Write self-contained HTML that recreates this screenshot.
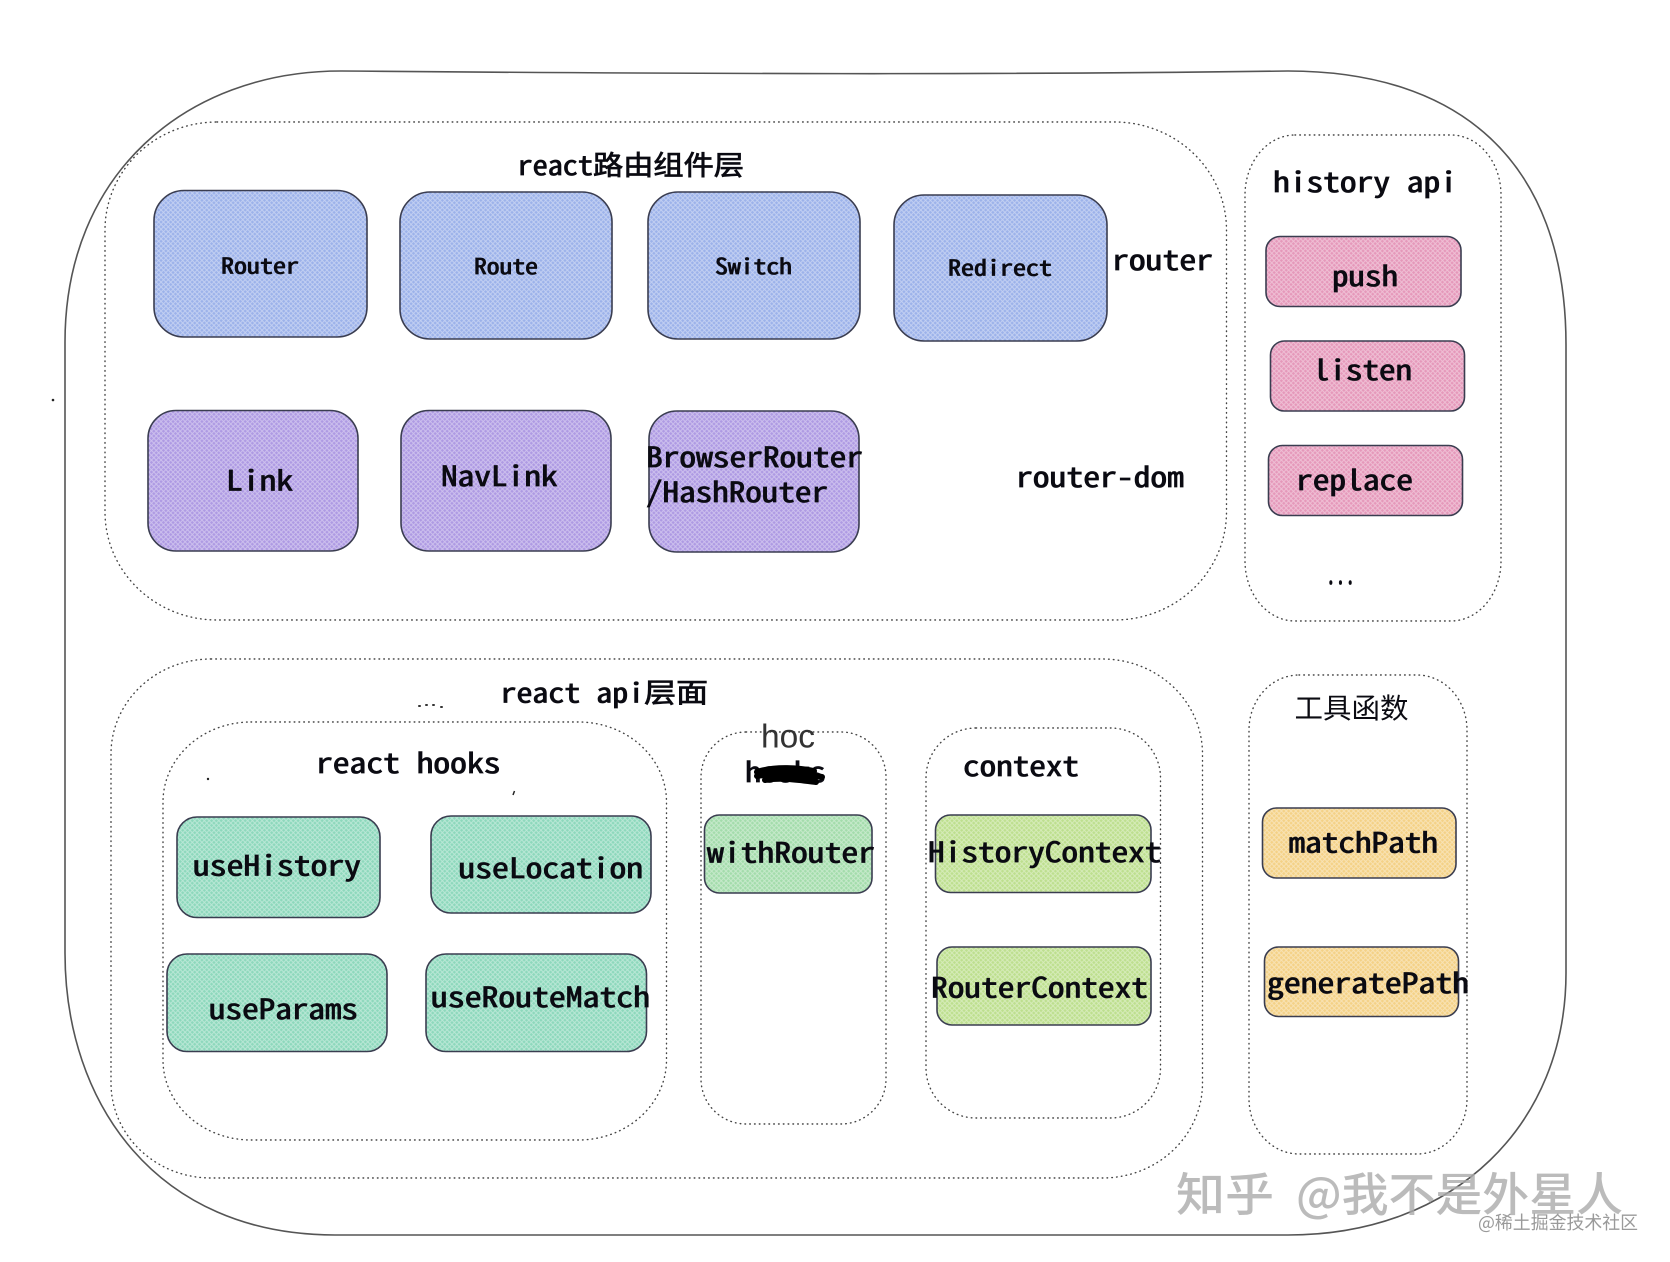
<!DOCTYPE html>
<html lang="zh">
<head>
<meta charset="utf-8">
<title>React Router layers</title>
<style>
html,body{margin:0;padding:0;background:#fff}
svg{display:block}
.m{font-family:"Noto Sans Mono CJK SC","DejaVu Sans Mono","Liberation Mono","Noto Sans CJK SC",monospace;font-weight:400;fill:#0b0b12;stroke:#0b0b12;stroke-width:.75}
.g{fill:#fff;fill-opacity:0;stroke:#444;stroke-width:1.4;stroke-linecap:round;stroke-dasharray:.6 4.2}
.b{stroke:#3a3d50;stroke-width:1.6}
</style>
</head>
<body>
<svg xmlns="http://www.w3.org/2000/svg" width="1670" height="1262" viewBox="0 0 1670 1262">
<defs>
<pattern id="pb" patternUnits="userSpaceOnUse" width="3.4" height="3.4" patternTransform="rotate(45)"><rect width="3.4" height="3.4" fill="#9cb2ea"/><path d="M0 .6H3.4M.6 0V3.4" stroke="#fff" stroke-opacity=".4" stroke-width=".9"/></pattern>
<pattern id="pp" patternUnits="userSpaceOnUse" width="3.4" height="3.4" patternTransform="rotate(45)"><rect width="3.4" height="3.4" fill="#ae9ae3"/><path d="M0 .6H3.4M.6 0V3.4" stroke="#fff" stroke-opacity=".4" stroke-width=".9"/></pattern>
<pattern id="pk" patternUnits="userSpaceOnUse" width="3.4" height="3.4" patternTransform="rotate(45)"><rect width="3.4" height="3.4" fill="#e598ba"/><path d="M0 .6H3.4M.6 0V3.4" stroke="#fff" stroke-opacity=".4" stroke-width=".9"/></pattern>
<pattern id="pt" patternUnits="userSpaceOnUse" width="3.4" height="3.4" patternTransform="rotate(45)"><rect width="3.4" height="3.4" fill="#8dd8bc"/><path d="M0 .6H3.4M.6 0V3.4" stroke="#fff" stroke-opacity=".4" stroke-width=".9"/></pattern>
<pattern id="pl" patternUnits="userSpaceOnUse" width="3.4" height="3.4" patternTransform="rotate(45)"><rect width="3.4" height="3.4" fill="#a3dcab"/><path d="M0 .6H3.4M.6 0V3.4" stroke="#fff" stroke-opacity=".4" stroke-width=".9"/></pattern>
<pattern id="pg" patternUnits="userSpaceOnUse" width="3.4" height="3.4" patternTransform="rotate(45)"><rect width="3.4" height="3.4" fill="#bddf8e"/><path d="M0 .6H3.4M.6 0V3.4" stroke="#fff" stroke-opacity=".4" stroke-width=".9"/></pattern>
<pattern id="py" patternUnits="userSpaceOnUse" width="3.4" height="3.4" patternTransform="rotate(45)"><rect width="3.4" height="3.4" fill="#f4d186"/><path d="M0 .6H3.4M.6 0V3.4" stroke="#fff" stroke-opacity=".4" stroke-width=".9"/></pattern>
</defs>

<rect width="1670" height="1262" fill="#fff"/>

<!-- outer -->
<path d="M65 342C65 175 185 71 341 71C700 74 1000 75 1288 71C1457 71 1566 159 1566 345L1566 973C1566 1123 1456 1235 1288 1235L335 1235C156 1235 65 1103 65 953Z" fill="none" stroke="#555" stroke-width="1.6"/>

<!-- dotted groups -->
<rect class="g" x="105" y="122" width="1121.5" height="498" rx="112" ry="108"/>
<rect class="g" x="1245" y="135" width="256" height="486" rx="50" ry="60"/>
<rect class="g" x="111" y="659" width="1091.5" height="519" rx="100" ry="95"/>
<rect class="g" x="163" y="722" width="503.5" height="418" rx="88" ry="80"/>
<rect class="g" x="701" y="732" width="185" height="392" rx="45" ry="45"/>
<rect class="g" x="926" y="728" width="234.5" height="390" rx="50" ry="50"/>
<rect class="g" x="1249" y="675" width="218" height="479" rx="50" ry="55"/>

<!-- blue -->
<rect class="b" fill="url(#pb)" x="154" y="190.5" width="213" height="146.5" rx="30"/>
<rect class="b" fill="url(#pb)" x="400" y="192" width="212" height="147" rx="30"/>
<rect class="b" fill="url(#pb)" x="648" y="192" width="212" height="147" rx="30"/>
<rect class="b" fill="url(#pb)" x="894" y="195" width="213" height="146" rx="30"/>
<!-- purple -->
<rect class="b" fill="url(#pp)" x="148" y="410.5" width="210" height="140.5" rx="28"/>
<rect class="b" fill="url(#pp)" x="401" y="410.5" width="210" height="140.5" rx="28"/>
<rect class="b" fill="url(#pp)" x="649" y="411" width="210" height="141" rx="28"/>
<!-- pink -->
<rect class="b" fill="url(#pk)" x="1266" y="236.5" width="195" height="70" rx="14"/>
<rect class="b" fill="url(#pk)" x="1270.5" y="341" width="194" height="70" rx="14"/>
<rect class="b" fill="url(#pk)" x="1268.5" y="445.5" width="194" height="70" rx="14"/>
<!-- teal -->
<rect class="b" fill="url(#pt)" x="177" y="817" width="203" height="100.5" rx="20"/>
<rect class="b" fill="url(#pt)" x="431" y="816" width="220" height="97" rx="20"/>
<rect class="b" fill="url(#pt)" x="167" y="954" width="220" height="97.5" rx="20"/>
<rect class="b" fill="url(#pt)" x="426" y="954" width="220.5" height="97.5" rx="20"/>
<!-- light green -->
<rect class="b" fill="url(#pl)" x="704.5" y="815" width="167.5" height="78" rx="15"/>
<!-- lime -->
<rect class="b" fill="url(#pg)" x="935.5" y="815" width="215.5" height="77.5" rx="15"/>
<rect class="b" fill="url(#pg)" x="937" y="947" width="214" height="78" rx="15"/>
<!-- yellow -->
<rect class="b" fill="url(#py)" x="1262.5" y="808" width="193.5" height="70" rx="14"/>
<rect class="b" fill="url(#py)" x="1264.5" y="947" width="194" height="69.5" rx="14"/>

<!-- labels -->
<text class="m" x="517.5" y="175" font-size="27" textLength="226.5" lengthAdjust="spacingAndGlyphs">react路由组件层</text>
<text class="m" x="221" y="273.5" font-size="21.5" textLength="78" lengthAdjust="spacingAndGlyphs">Router</text>
<text class="m" x="474" y="274" font-size="21.5" textLength="64" lengthAdjust="spacingAndGlyphs">Route</text>
<text class="m" x="715" y="274" font-size="21.5" textLength="77" lengthAdjust="spacingAndGlyphs">Switch</text>
<text class="m" x="948" y="275.5" font-size="21.5" textLength="104" lengthAdjust="spacingAndGlyphs">Redirect</text>
<text class="m" x="1112" y="270" font-size="28" textLength="101" lengthAdjust="spacingAndGlyphs">router</text>
<text class="m" x="226" y="490.5" font-size="28" textLength="67" lengthAdjust="spacingAndGlyphs">Link</text>
<text class="m" x="441" y="486" font-size="28" textLength="116.5" lengthAdjust="spacingAndGlyphs">NavLink</text>
<text class="m" x="646" y="467" font-size="28" textLength="217" lengthAdjust="spacingAndGlyphs">BrowserRouter</text>
<text class="m" x="646" y="502" font-size="28" textLength="182" lengthAdjust="spacingAndGlyphs">/HashRouter</text>
<text class="m" x="1016" y="487" font-size="28" textLength="168" lengthAdjust="spacingAndGlyphs">router-dom</text>
<text class="m" x="1273" y="192" font-size="28" textLength="184" lengthAdjust="spacingAndGlyphs">history api</text>
<text class="m" x="1332" y="286" font-size="28" textLength="66" lengthAdjust="spacingAndGlyphs">push</text>
<text class="m" x="1313" y="380" font-size="28" textLength="99" lengthAdjust="spacingAndGlyphs">listen</text>
<text class="m" x="1296" y="490" font-size="28" textLength="117" lengthAdjust="spacingAndGlyphs">replace</text>
<text class="m" x="1326" y="584" font-size="28" textLength="29" lengthAdjust="spacingAndGlyphs">...</text>

<text class="m" x="500.5" y="702.5" font-size="27" textLength="207.5" lengthAdjust="spacingAndGlyphs">react api层面</text>
<text class="m" x="316" y="773" font-size="28" textLength="184.5" lengthAdjust="spacingAndGlyphs">react hooks</text>
<text x="771" y="747.5" font-family="'Liberation Sans',sans-serif" font-size="33" fill="#333" textLength="54" lengthAdjust="spacingAndGlyphs" transform="translate(-10 0)">hoc</text>
<text class="m" x="755" y="782" font-size="28" textLength="81" lengthAdjust="spacingAndGlyphs" transform="translate(-10 0)">hooks</text>
<path d="M757 772C775 766 800 768 814 771M757 776C780 772 800 774 822 777M765 780C780 777 800 780 816 782" fill="none" stroke="#000" stroke-width="6" stroke-linecap="round"/>
<text class="m" x="963" y="776" font-size="28" textLength="116" lengthAdjust="spacingAndGlyphs">context</text>
<text class="m" x="193" y="875.5" font-size="28" textLength="168" lengthAdjust="spacingAndGlyphs">useHistory</text>
<text class="m" x="458.5" y="878" font-size="28" textLength="184.5" lengthAdjust="spacingAndGlyphs">useLocation</text>
<text class="m" x="209" y="1019" font-size="28" textLength="149" lengthAdjust="spacingAndGlyphs">useParams</text>
<text class="m" x="431" y="1007" font-size="28" textLength="219" lengthAdjust="spacingAndGlyphs">useRouteMatch</text>
<text class="m" x="707" y="862.5" font-size="28" textLength="168" lengthAdjust="spacingAndGlyphs">withRouter</text>
<text class="m" x="928" y="862" font-size="28" textLength="233.5" lengthAdjust="spacingAndGlyphs">HistoryContext</text>
<text class="m" x="931" y="997.5" font-size="28" textLength="217" lengthAdjust="spacingAndGlyphs">RouterContext</text>
<text x="1294.5" y="718" font-family="'Noto Sans CJK SC',sans-serif" font-size="28" fill="#0b0b12" font-weight="400" textLength="114" lengthAdjust="spacingAndGlyphs">工具函数</text>
<text class="m" x="1288.5" y="852.5" font-size="28" textLength="149.5" lengthAdjust="spacingAndGlyphs">matchPath</text>
<text class="m" x="1267" y="993" font-size="28" textLength="202" lengthAdjust="spacingAndGlyphs">generatePath</text>

<!-- specks -->
<circle cx="53" cy="400" r="1.3" fill="#222"/>
<circle cx="208" cy="779" r="1.2" fill="#222"/>
<path d="M513 795l1.5-4" stroke="#222" stroke-width="1.5"/>
<path d="M419 706h1M426 705h1M433 705h1M441 707h1" stroke="#333" stroke-width="2" stroke-linecap="round"/>

<!-- watermarks -->
<text x="1176" y="1211" font-family="'Noto Sans CJK SC',sans-serif" font-size="46" font-weight="500" fill="#aaa" fill-opacity=".8" textLength="98" lengthAdjust="spacingAndGlyphs">知乎</text>
<text x="1296" y="1211" font-family="'Noto Sans CJK SC',sans-serif" font-size="46" font-weight="500" fill="#aaa" fill-opacity=".8" textLength="327" lengthAdjust="spacingAndGlyphs">@我不是外星人</text>
<text x="1478" y="1229" font-family="'Noto Sans CJK SC',sans-serif" font-size="18" fill="#888" fill-opacity=".85" textLength="160" lengthAdjust="spacingAndGlyphs">@稀土掘金技术社区</text>
</svg>
</body>
</html>
